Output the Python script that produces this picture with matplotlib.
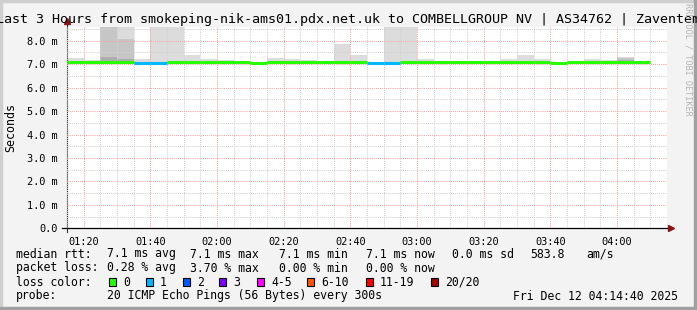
import matplotlib.pyplot as plt
from matplotlib.patches import Rectangle
import matplotlib.ticker as mticker

W, H = 697, 310
MONO = 'DejaVu Sans Mono'

# 5-minute steps starting at 01:15 (minutes after midnight)
start_min = 75
step = 5
median = [7.08, 7.08, 7.08, 7.08, 7.07, 7.05, 7.08, 7.08, 7.08, 7.08, 7.08, 7.06,
          7.08, 7.08, 7.08, 7.08, 7.08, 7.08, 7.04, 7.07, 7.08, 7.08, 7.08, 7.08,
          7.08, 7.08, 7.08, 7.08, 7.08, 7.07, 7.08, 7.08, 7.08, 7.08, 7.08]
lost = [0, 0, 0, 0, 1, 1, 0, 0, 0, 0, 0, 0, 0, 0, 0, 0, 0, 0, 1, 1, 0, 0, 0, 0,
        0, 0, 0, 0, 0, 0, 0, 0, 0, 0, 0]
smoke_max = [7.28, 7.18, 9.2, 9.2, 7.22, 9.2, 9.2, 7.39, 7.22, 7.18, 7.14, 7.08,
             7.25, 7.20, 7.18, 7.09, 7.84, 7.40, 7.06, 9.2, 9.2, 7.23, 7.15, 7.14,
             7.12, 7.12, 7.22, 7.39, 7.22, 7.09, 7.12, 7.22, 7.18, 7.32, 7.14]
smoke_mid = [7.12, 7.10, 9.2, 8.08, 7.10, 7.08, 7.10, 7.11, 7.10, 7.10, 7.10, 7.07,
             7.11, 7.10, 7.10, 7.08, 7.14, 7.11, 7.05, 7.08, 7.10, 7.10, 7.10, 7.10,
             7.10, 7.10, 7.11, 7.12, 7.14, 7.08, 7.10, 7.11, 7.10, 7.25, 7.14]
smoke_dark = [7.08, 7.08, 7.30, 7.20, 7.07, 7.05, 7.08, 7.08, 7.08, 7.08, 7.08, 7.06,
              7.08, 7.08, 7.08, 7.08, 7.10, 7.08, 7.04, 7.07, 7.08, 7.08, 7.08, 7.08,
              7.08, 7.08, 7.08, 7.08, 7.12, 7.07, 7.08, 7.08, 7.08, 7.18, 7.10]

loss_labels = ['0', '1', '2', '3', '4-5', '6-10', '11-19', '20/20']
loss_colors = ['#26ff00', '#00b8ff', '#0059ff', '#7e00ff', '#ff00ff', '#ff5500',
               '#ff0000', '#a10000']
x_ticks = [80, 100, 120, 140, 160, 180, 200, 220, 240]
x_tick_labels = ['01:20', '01:40', '02:00', '02:20', '02:40', '03:00', '03:20',
                 '03:40', '04:00']
y_ticks = [0, 1, 2, 3, 4, 5, 6, 7, 8]
y_tick_labels = ['0.0', '1.0 m', '2.0 m', '3.0 m', '4.0 m', '5.0 m', '6.0 m',
                 '7.0 m', '8.0 m']

fig = plt.figure(figsize=(W / 100, H / 100), dpi=100, facecolor='#f3f3f3')

# frame around the image
fig.patches.append(Rectangle((0, 1 - 2 / H), 1, 2 / H, transform=fig.transFigure,
                             color='#cfcfcf', zorder=0))
fig.patches.append(Rectangle((0, 0), 2 / W, 1, transform=fig.transFigure,
                             color='#cfcfcf', zorder=0))
fig.patches.append(Rectangle((0, 0), 1, 3 / H, transform=fig.transFigure,
                             color='#a0a0a0', zorder=0))
fig.patches.append(Rectangle((1 - 3 / W, 0), 3 / W, 1, transform=fig.transFigure,
                             color='#a0a0a0', zorder=0))

ax = fig.add_axes([67 / W, (H - 228.3) / H, 600 / W, 201.3 / H])
ax.set_facecolor('white')
ax.set_xlim(75, 255)
ax.set_ylim(0, 8.585)

starts = [start_min + step * i for i in range(len(median))]
low = [m - 0.04 for m in median]

ax.bar(starts, [t - b for t, b in zip(smoke_max, low)], bottom=low, width=step,
       align='edge', color='#dcdcdc', linewidth=0, zorder=1)
ax.bar(starts, [t - b for t, b in zip(smoke_mid, low)], bottom=low, width=step,
       align='edge', color='#c6c6c6', linewidth=0, zorder=1.2)
ax.bar(starts, [t - b for t, b in zip(smoke_dark, low)], bottom=low, width=step,
       align='edge', color='#adadad', linewidth=0, zorder=1.4)

med_colors = [loss_colors[n] for n in lost]
ax.hlines(median, starts, [s + step for s in starts], colors=med_colors,
          linewidth=2.2, zorder=3)

# grid
ax.xaxis.set_major_locator(mticker.FixedLocator(x_ticks))
ax.xaxis.set_minor_locator(mticker.MultipleLocator(5))
ax.yaxis.set_major_locator(mticker.FixedLocator(y_ticks))
ax.yaxis.set_minor_locator(mticker.MultipleLocator(0.5))
ax.set_xticklabels(x_tick_labels, fontfamily=MONO, fontsize=7.4)
ax.set_yticklabels(y_tick_labels, fontfamily=MONO, fontsize=7.4)
ax.set_axisbelow(False)
ax.grid(which='minor', color='#d2d2d2', linestyle=(0, (1, 1)), linewidth=0.75)
ax.grid(which='major', color='#f4a6a6', linestyle=(0, (1, 1)), linewidth=0.75)
ax.tick_params(which='both', length=0)
ax.tick_params(axis='x', which='major', pad=6)
ax.tick_params(axis='y', which='major', pad=7)

for side in ('top', 'right'):
    ax.spines[side].set_visible(False)
ax.spines['left'].set_color('#333333')
ax.spines['bottom'].set_color('black')
ax.spines['left'].set_linewidth(0.8)
ax.spines['bottom'].set_linewidth(0.9)
ax.spines['bottom'].set_bounds(73.5, 256)
ax.spines['left'].set_bounds(-0.15, 8.75)
ax.plot([75], [8.83], marker='^', color='#8b1414', markersize=4.5,
        clip_on=False, zorder=5)
ax.plot([256.3], [0], marker='>', color='#8b1414', markersize=4.5,
        clip_on=False, zorder=5)


def ftext(x, y, s, **kw):
    kw.setdefault('fontfamily', MONO)
    kw.setdefault('va', 'center')
    fig.text(x / W, 1 - y / H, s, **kw)


ftext(W / 2, 19, 'Last 3 Hours from smokeping-nik-ams01.pdx.net.uk to '
      'COMBELLGROUP NV | AS34762 | Zaventem', fontsize=9.6, ha='center')
ftext(11, 128, 'Seconds', fontsize=8.4, ha='center', rotation=90)
ftext(688, 59, 'RRDTOOL / TOBI OETIKER', fontsize=6.1, ha='center',
      rotation=270, color='#b4b4b4')

fs = 8.3
ftext(16, 254, 'median rtt:', fontsize=fs)
ftext(107, 254, '7.1 ms avg', fontsize=fs)
ftext(190, 254, '7.1 ms max', fontsize=fs)
ftext(279, 254, '7.1 ms min', fontsize=fs)
ftext(366, 254, '7.1 ms now', fontsize=fs)
ftext(452, 254, '0.0 ms sd', fontsize=fs)
ftext(530, 254, '583.8', fontsize=fs)
ftext(586, 254, 'am/s', fontsize=fs)

ftext(16, 268, 'packet loss:', fontsize=fs)
ftext(107, 268, '0.28 % avg', fontsize=fs)
ftext(190, 268, '3.70 % max', fontsize=fs)
ftext(279, 268, '0.00 % min', fontsize=fs)
ftext(366, 268, '0.00 % now', fontsize=fs)

ftext(16, 282, 'loss color:', fontsize=fs)
box_x = [109, 146, 183, 219, 257, 307, 366, 431]
for bx, lab, col in zip(box_x, loss_labels, loss_colors):
    fig.patches.append(Rectangle((bx / W, 1 - 286 / H), 7 / W, 8 / H,
                                 transform=fig.transFigure, facecolor=col,
                                 edgecolor='black', linewidth=0.8))
    ftext(bx + 14, 282, lab, fontsize=fs)

ftext(16, 296, 'probe:', fontsize=fs)
ftext(107, 296, '20 ICMP Echo Pings (56 Bytes) every 300s', fontsize=fs)
ftext(513, 296, 'Fri Dec 12 04:14:40 2025', fontsize=fs)

fig.savefig('out.png', dpi=100, facecolor=fig.get_facecolor())
